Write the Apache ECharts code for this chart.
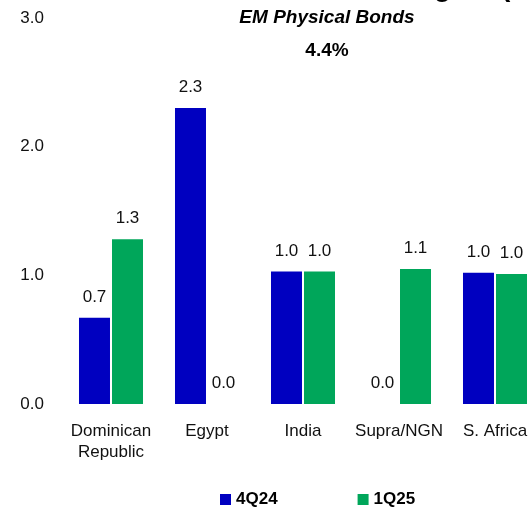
<!DOCTYPE html>
<html>
<head>
<meta charset="utf-8">
<script src="https://cdn.jsdelivr.net/npm/echarts@6/dist/echarts.min.js"></script>
<style>
  html, body { margin: 0; padding: 0; background: #fff; overflow: hidden; }
  /* the plot runs past the right edge of the window, so the last bar is cropped */
  #chart { width: 543px; height: 507px; }
</style>
</head>
<body>
<div id="chart"></div>
<script>
// Holdings by country, two quarters
const categories = ['Dominican\nRepublic', 'Egypt', 'India', 'Supra/NGN', 'S. Africa'];
const q4_24 = [0.67, 2.30, 1.03, 0.0, 1.02];
const q1_25 = [1.28, 0.0, 1.03, 1.05, 1.01];
const seriesNames = ['4Q24', '1Q25'];
const yTicks = [0, 1, 2, 3];
const sectionTitle = 'EM Physical Bonds';
const sectionTotal = '4.4%';
const headline = 'EM Weights (%)';

const FONT = "'Liberation Sans', Arial, sans-serif";
const BLUE = '#0000C0';
const GREEN = '#00A65A';

const chart = echarts.init(document.getElementById('chart'), null, { renderer: 'canvas' });

const labelCfg = {
  show: true,
  position: 'top',
  distance: 12,
  color: '#111',
  fontFamily: FONT,
  fontSize: 17,
  formatter: p => p.value.toFixed(1)
};

chart.setOption({
  animation: false,
  backgroundColor: '#fff',
  textStyle: { fontFamily: FONT },
  graphic: [
    {
      type: 'text', x: 335, y: -12, silent: true,
      style: {
        text: headline, x: 0, y: 0,
        fontFamily: FONT, fontSize: 28, fontWeight: 'bold', fill: '#000',
        align: 'left', textAlign: 'left', verticalAlign: 'middle', textVerticalAlign: 'middle'
      }
    },
    {
      type: 'text', x: 327, y: 18, silent: true,
      style: {
        text: sectionTitle, x: 0, y: 0,
        fontFamily: FONT, fontSize: 19, fontWeight: 'bold', fontStyle: 'italic', fill: '#000',
        align: 'center', textAlign: 'center', verticalAlign: 'middle', textVerticalAlign: 'middle'
      }
    },
    {
      type: 'text', x: 327, y: 51, silent: true,
      style: {
        text: sectionTotal, x: 0, y: 0,
        fontFamily: FONT, fontSize: 19, fontWeight: 'bold', fill: '#000',
        align: 'center', textAlign: 'center', verticalAlign: 'middle', textVerticalAlign: 'middle'
      }
    }
  ],
  legend: {
    data: seriesNames,
    left: 220,
    top: 491,
    padding: 0,
    itemWidth: 11,
    itemHeight: 11,
    itemGap: 80,
    icon: 'rect',
    textStyle: { fontFamily: FONT, fontSize: 17, fontWeight: 'bold', color: '#000' }
  },
  grid: { left: 63, top: 18, width: 480, height: 386, containLabel: false },
  xAxis: {
    type: 'category',
    data: categories,
    axisLine: { show: false },
    axisTick: { show: false },
    axisLabel: {
      color: '#111', fontFamily: FONT, fontSize: 17, lineHeight: 21,
      margin: 17, interval: 0
    }
  },
  yAxis: {
    type: 'value',
    min: yTicks[0],
    max: yTicks[yTicks.length - 1],
    interval: 1,
    axisLine: { show: false },
    axisTick: { show: false },
    splitLine: { show: false },
    axisLabel: {
      color: '#111', fontFamily: FONT, fontSize: 17, margin: 19,
      formatter: v => v.toFixed(1)
    }
  },
  series: [
    {
      name: seriesNames[0], type: 'bar', data: q4_24,
      barWidth: 31, barGap: '6.5%',
      itemStyle: { color: BLUE },
      label: labelCfg
    },
    {
      name: seriesNames[1], type: 'bar', data: q1_25,
      barWidth: 31, barGap: '6.5%',
      itemStyle: { color: GREEN },
      label: labelCfg
    }
  ]
});
</script>
</body>
</html>
